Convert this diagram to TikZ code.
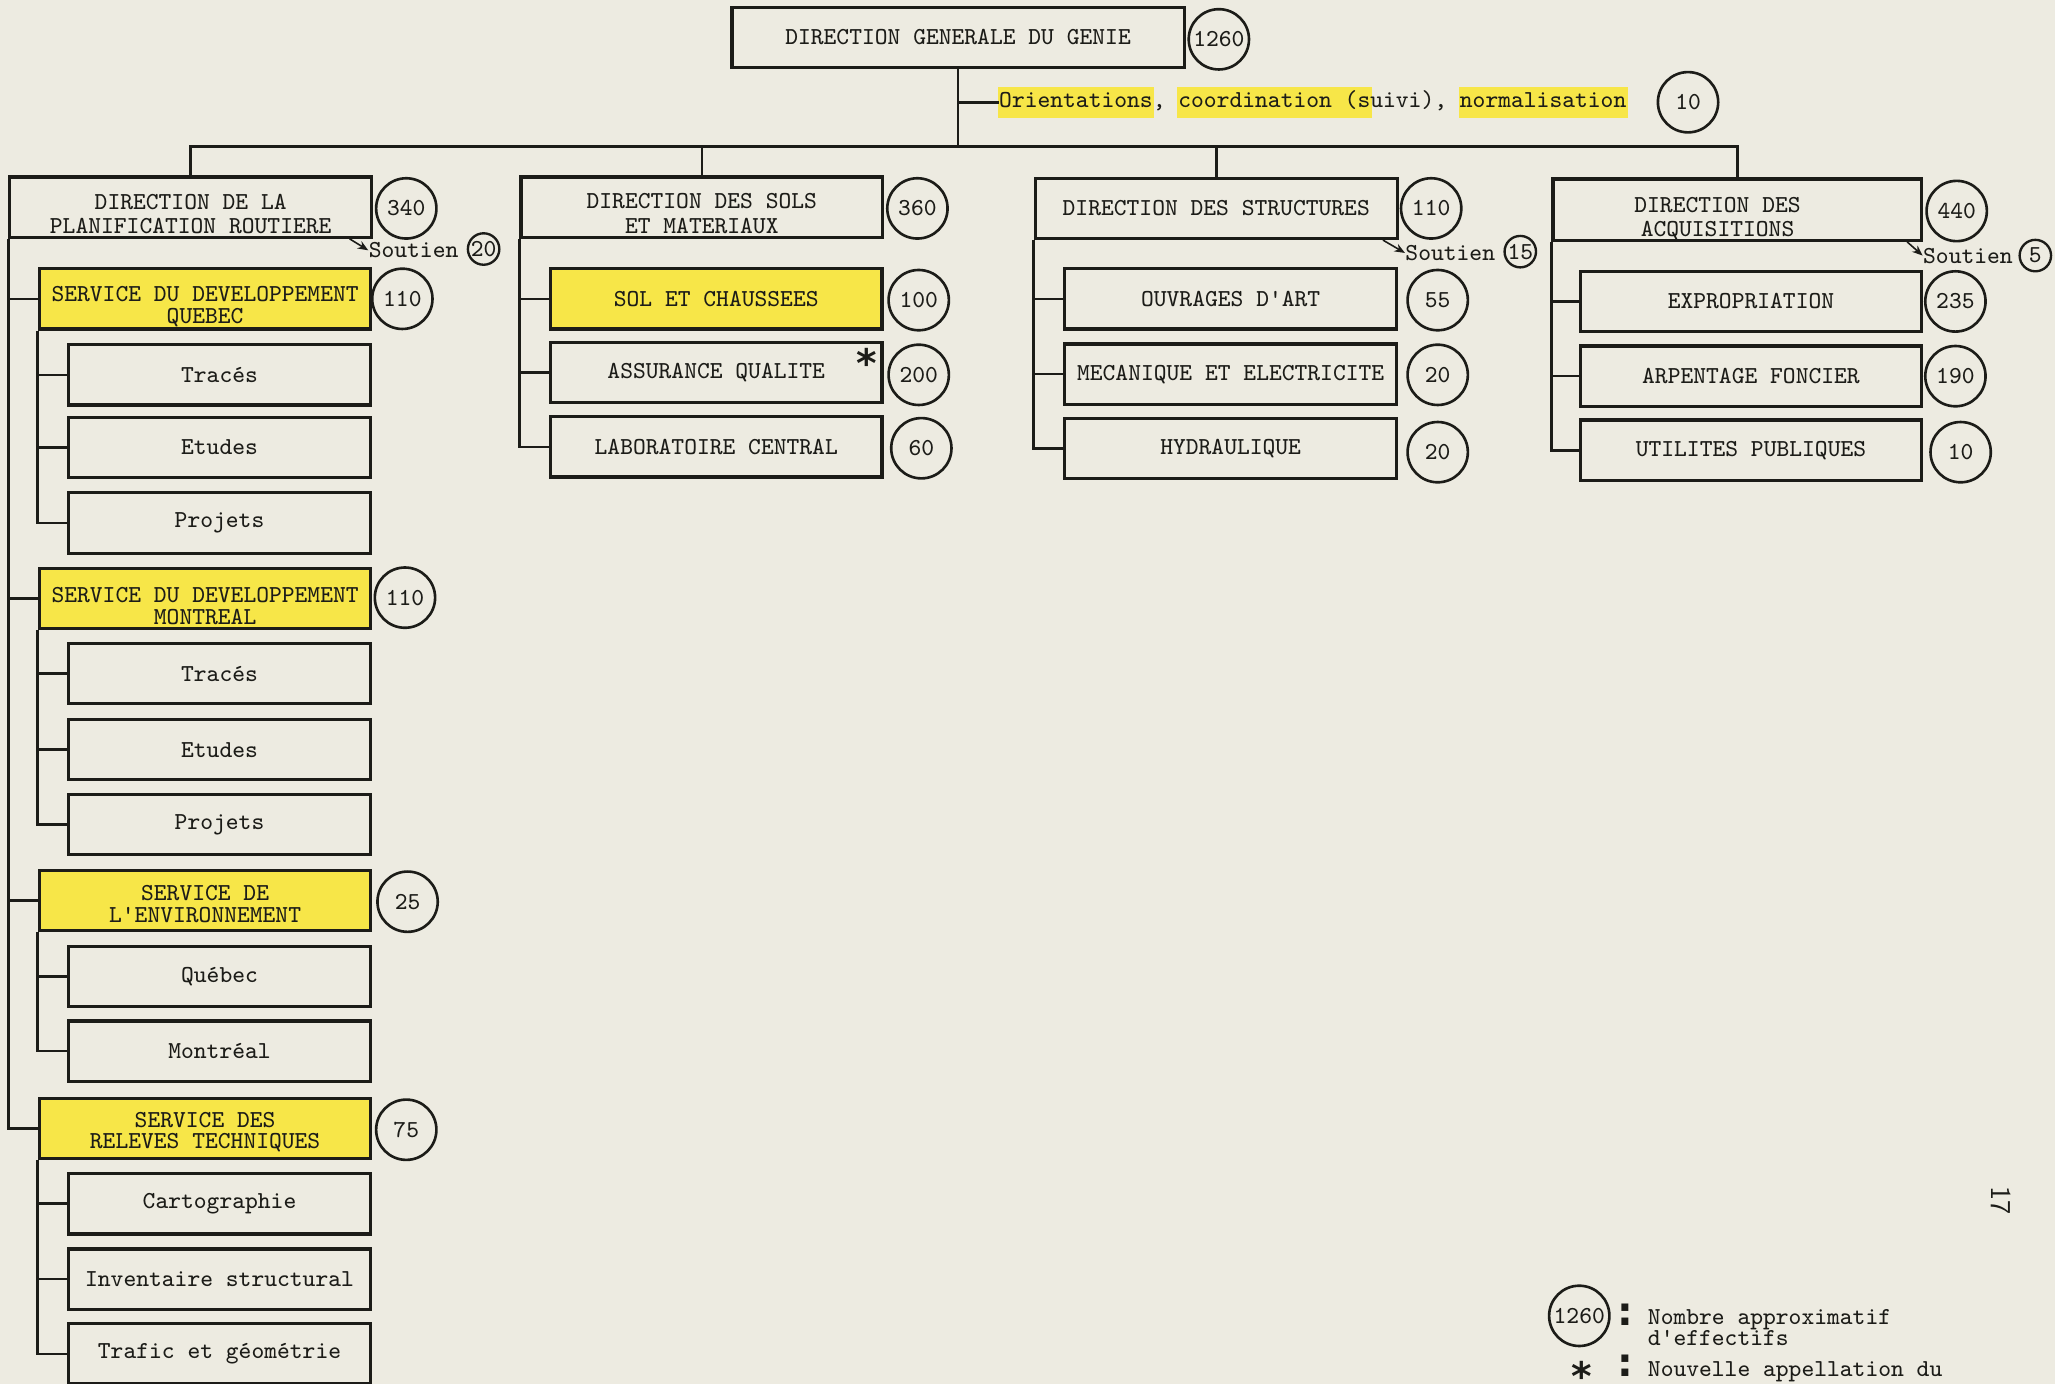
\documentclass[tikz,border=0pt]{standalone}
\usepackage{fontspec}
\newfontfamily\symfont{DejaVu Sans}
\usetikzlibrary{arrows.meta,positioning}
\definecolor{paper}{RGB}{237,235,225}
\definecolor{ink}{RGB}{28,28,24}
\definecolor{hl}{RGB}{247,230,72}
% marker stroke behind a piece of text
\newcommand\hlt[1]{{\setlength\fboxsep{0.5pt}\kern-0.5pt\colorbox{hl}{\rule[-3.5pt]{0pt}{11pt}#1}\kern-0.5pt}}
% taller first line, pushes two-line text down in its box
\newcommand\lift[1]{\rule{0pt}{#1}}
\newcommand\tightlines{\setlength\lineskiplimit{-20pt}}
% asterisk boxed to its ink only
\newcommand\newname{\raisebox{-6.3pt}[5.1pt][0pt]{*}}
\tikzset{
  >={Stealth[length=4pt,width=3.2pt]},
  every node/.style={font=\ttfamily\fontsize{9.3}{8.2}\selectfont,inner sep=0pt,text=ink},
  link/.style={line width=1pt,draw=ink},
  pointer/.style={line width=0.6pt,draw=ink,->},
  dirbox/.style={draw=ink,line width=1.2pt,minimum width=138pt,minimum height=23pt,align=center,
    font=\ttfamily\fontsize{9.3}{9.4}\selectfont},
  unitbox/.style={draw=ink,line width=1.2pt,minimum width=126.5pt,minimum height=23pt,align=center},
  subbox/.style={unitbox,minimum width=115.5pt},
  marked/.style={fill=hl},
  count/.style={circle,draw=ink,line width=1pt,minimum size=23pt},
  small/.style={circle,draw=ink,line width=0.9pt,minimum size=12pt},
  glyph/.style={font=\symfont\bfseries\fontsize{15}{15}\selectfont},
  legend/.style={anchor=west,align=left,font={\ttfamily\fontsize{9.3}{7.9}\selectfont\tightlines}},
}

\begin{document}
\begin{tikzpicture}[x=0.5pt,y=-0.5pt]
  \fill[paper] (0,0) rectangle (1568,1056);
  \useasboundingbox (0,0) rectangle (1568,1056);

  % head
  \node[dirbox,minimum width=172.5pt] (dgg) at (731,28.5) {DIRECTION GENERALE DU GENIE};
  \node[count] (n1260) at (930,30) {1260};
  \node[anchor=west] (orient) at (762,78)
    {\hlt{Orientations}, \hlt{coordination (s}uivi), \hlt{normalisation}};
  \node[count] (n10) at (1288,78) {10};
  \coordinate (bus) at (731,112);
  \draw[link] (dgg.south) -- (bus);
  \draw[link] (dgg.south |- orient.west) -- (orient.west);

  % directions
  \node[dirbox] (dpr) at (145.5,158) {\lift{11.2pt}DIRECTION DE LA\\PLANIFICATION ROUTIERE};
  \node[dirbox] (dsm) at (535.5,158) {\lift{10.7pt}DIRECTION DES SOLS\\ET MATERIAUX};
  \node[dirbox] (dst) at (928,159) {DIRECTION DES STRUCTURES};
  \node[dirbox,minimum width=140.5pt] (dac) at (1325.5,160)
    {\lift{12.7pt}DIRECTION DES\hspace*{15pt}\\ACQUISITIONS\hspace*{15pt}};
  \node[count] (n340) at (310,159) {340};
  \node[count] (n360) at (700,159) {360};
  \node[count] (n110) at (1092,159) {110};
  \node[count] (n440) at (1493,161) {440};
  \draw[link] (dpr.north) |- (bus) -| (dac.north);
  \draw[link] (dsm.north) -- (dsm.north |- bus);
  \draw[link] (dst.north) -- (dst.north |- bus);

  % soutien
  \node[anchor=west] (spr) at (281,191) {Soutien};
  \node[small] (n20s) at (369,190) {20};
  \draw[pointer] ([xshift=-9pt]dpr.south east) -- (spr.west);
  \node[anchor=west] (sst) at (1072,193) {Soutien};
  \node[small] (n15s) at (1160,192) {15};
  \draw[pointer] ([xshift=-6pt]dst.south east) -- (sst.west);
  \node[anchor=west] (sac) at (1467,195) {Soutien};
  \node[small] (n5s) at (1553,195) {5};
  \draw[pointer] ([xshift=-6pt]dac.south east) -- (sac.west);

  % planification routiere
  \node[unitbox,marked] (sq) at (156.5,228) {\lift{11.7pt}SERVICE DU DEVELOPPEMENT\\QUEBEC};
  \node[count] (n110q) at (307,228) {110};
  \node[subbox] (tq) at (167.5,286) {Tracés};
  \node[subbox] (eq) at (167.5,341.5) {Etudes};
  \node[subbox] (pq) at (167.5,399) {Projets};
  \node[unitbox,marked] (sm) at (156.5,456.5) {\lift{11.7pt}SERVICE DU DEVELOPPEMENT\\MONTREAL};
  \node[count] (n110m) at (309,456) {110};
  \node[subbox] (tm) at (167.5,514) {Tracés};
  \node[subbox] (em) at (167.5,572) {Etudes};
  \node[subbox] (pm) at (167.5,629) {Projets};
  \node[unitbox,marked] (se) at (156.5,687) {\lift{8.7pt}SERVICE DE\\L'ENVIRONNEMENT};
  \node[count] (n25) at (311,688) {25};
  \node[subbox] (qe) at (167.5,745) {Québec};
  \node[subbox] (me) at (167.5,802) {Montréal};
  \node[unitbox,marked] (sr) at (156.5,861) {\lift{8.7pt}SERVICE DES\\RELEVES TECHNIQUES};
  \node[count] (n75) at (310,862) {75};
  \node[subbox] (cr) at (167.5,918.5) {Cartographie};
  \node[subbox] (ir) at (167.5,976) {Inventaire structural};
  \node[subbox] (tr) at (167.5,1033) {Trafic et géométrie};
  \draw[link] (dpr.south west) |- (sr.west);
  \foreach \s in {sq,sm,se}
    \draw[link] (dpr.south west |- \s.west) -- (\s.west);
  \draw[link] (sq.south west) |- (pq.west);
  \foreach \s in {tq,eq}
    \draw[link] (sq.south west |- \s.west) -- (\s.west);
  \draw[link] (sm.south west) |- (pm.west);
  \foreach \s in {tm,em}
    \draw[link] (sm.south west |- \s.west) -- (\s.west);
  \draw[link] (se.south west) |- (me.west);
  \draw[link] (se.south west |- qe.west) -- (qe.west);
  \draw[link] (sr.south west) |- (tr.west);
  \foreach \s in {cr,ir}
    \draw[link] (sr.south west |- \s.west) -- (\s.west);

  % sols et materiaux
  \node[unitbox,marked] (sc) at (546.5,228) {SOL ET CHAUSSEES};
  \node[unitbox] (aq) at (546.5,284) {ASSURANCE QUALITE};
  \node[unitbox] (lc) at (546.5,341) {LABORATOIRE CENTRAL};
  \node[glyph] (ast) at (661,270) {\newname};
  \node[count] (n100) at (701,229) {100};
  \node[count] (n200) at (701,286) {200};
  \node[count] (n60) at (703,342) {60};
  \draw[link] (dsm.south west) |- (lc.west);
  \foreach \s in {sc,aq}
    \draw[link] (dsm.south west |- \s.west) -- (\s.west);

  % structures
  \node[unitbox] (oa) at (939,228) {OUVRAGES D'ART};
  \node[unitbox] (mel) at (939,285.5) {MECANIQUE ET ELECTRICITE};
  \node[unitbox] (hy) at (939,342) {HYDRAULIQUE};
  \node[count] (n55) at (1097,229) {55};
  \node[count] (n20m) at (1097,286) {20};
  \node[count] (n20h) at (1097,345) {20};
  \draw[link] (dst.south west) |- (hy.west);
  \foreach \s in {oa,mel}
    \draw[link] (dst.south west |- \s.west) -- (\s.west);

  % acquisitions
  \node[unitbox,minimum width=130pt] (xp) at (1336,230) {EXPROPRIATION};
  \node[unitbox,minimum width=130pt] (af) at (1336,287) {ARPENTAGE FONCIER};
  \node[unitbox,minimum width=130pt] (ut) at (1336,343.5) {UTILITES PUBLIQUES};
  \node[count] (n235) at (1492,230) {235};
  \node[count] (n190) at (1492,287) {190};
  \node[count] (n10u) at (1496,345) {10};
  \draw[link] (dac.south west) |- (ut.west);
  \foreach \s in {xp,af}
    \draw[link] (dac.south west |- \s.west) -- (\s.west);

  % legend
  \node[count] (lg1260) at (1205,1004) {1260};
  \node[glyph] (lgc1) at (1240,1003) {:};
  \node[legend] (lgtx1) at (1257,1013) {Nombre approximatif\\d'effectifs};
  \node[glyph] (lgast) at (1207,1043) {\newname};
  \node[glyph] (lgc2) at (1240,1042) {:};
  \node[anchor=west] (lgtx2) at (1257,1047) {Nouvelle appellation du};

  \node[rotate=-90,font=\sffamily\fontsize{11}{11}\selectfont] (pg) at (1527,916) {17};
\end{tikzpicture}
\end{document}
